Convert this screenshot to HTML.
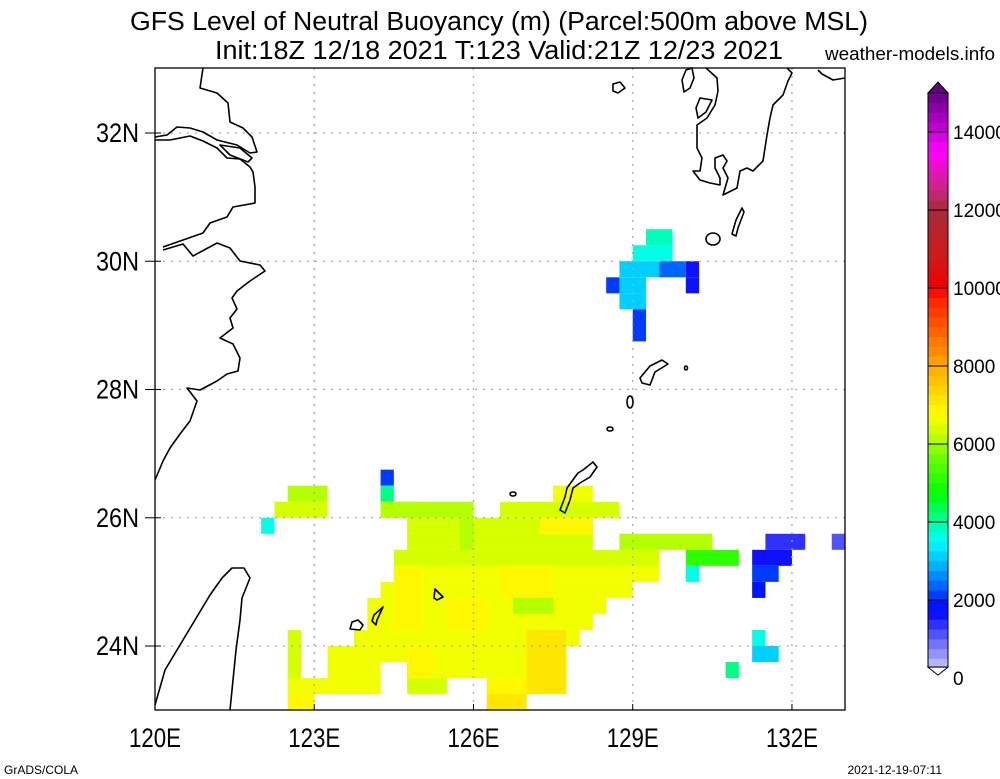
<!DOCTYPE html>
<html><head><meta charset="utf-8"><style>
body{margin:0;background:#fff;}
svg{display:block;font-family:"Liberation Sans",sans-serif;}
</style></head><body>
<svg id="chart" width="1000" height="779" viewBox="0 0 1000 779" xmlns="http://www.w3.org/2000/svg">
<text x="130" y="30" font-size="25.5" textLength="738" lengthAdjust="spacingAndGlyphs">GFS Level of Neutral Buoyancy (m) (Parcel:500m above MSL)</text>
<text x="215" y="59" font-size="25.5" textLength="568" lengthAdjust="spacingAndGlyphs">Init:18Z 12/18 2021 T:123 Valid:21Z 12/23 2021</text>
<text x="825" y="60" font-size="18.5" textLength="170" lengthAdjust="spacingAndGlyphs">weather-models.info</text>
<g id="cells"></g>
<g id="grid"></g>
<g id="coast" fill="none" stroke="#000" stroke-width="1.6" stroke-linejoin="round">
<polyline points="203,68 200,88 217,93 228,103 230,122 243,128 252,137 257,152 250,153 237,145 217,140 203,132 190,128 177,127 167,135 155,137"/>
<polyline points="155,140 170,140 190,136 203,141 217,148 227,158 240,159 250,167 253,172 255,187 255,203 233,207 227,217 210,223 203,233 183,240 163,247"/>
<polyline points="163,250 183,244 193,256 217,243 230,248 240,261 260,265 265,271 250,281 237,291 232,298 237,309 230,318 233,328 220,338 233,344 240,358 238,371 227,374 217,381 200,390 187,388 197,401 190,421 180,434 170,448 163,461 155,480"/>
<polygon points="220,145 240,148 252,158 248,162 230,155"/>
<polyline points="155,705 165,670 180,645 195,620 210,595 222,578 232,568 244,568 250,578 242,598 240,620 236,650 233,680 230,710"/>
<polyline points="706,68 717,78 718,91 715,105 707,118 697,125 697,148 702,158 700,171 693,171 700,180 710,183 720,185 720,178 715,168 715,158 723,155 727,161 723,168 728,178 723,195 737,188 740,171 747,168 753,171 763,161 767,135 770,118 773,105 783,95 788,81 792,73 787,68"/>
<polygon points="686,70 692,68 694,78 690,88 684,92 682,80"/>
<polygon points="700,98 712,100 706,112 698,118 696,108"/>
<polyline points="818,70 822,74 833,80 845,78"/>
<polygon points="613,84 620,82 625,88 618,93 613,91"/>
<polygon points="742,208 744,212 738,228 736,236 732,234 736,220"/>
<ellipse cx="713" cy="239" rx="7" ry="6"/>
<polygon points="640,378 650,366 662,360 668,364 655,372 650,385 642,383"/>
<ellipse cx="630" cy="402" rx="3" ry="6"/>
<ellipse cx="610" cy="429" rx="3" ry="2"/>
<ellipse cx="686" cy="368" rx="1.5" ry="2"/>
<polygon points="593,462 597,467 590,477 580,483 573,488 570,500 565,513 560,510 565,497 567,488 575,477 578,473 583,470"/>
<ellipse cx="513" cy="494" rx="3" ry="2"/>
<polygon points="435,589 443,597 437,600 434,598"/>
<polygon points="383,607 377,620 376,625 372,621 374,615"/>
<polygon points="352,622 358,620 363,625 360,630 350,629"/>
</g>
<rect x="155" y="68" width="690" height="642" fill="none" stroke="#000" stroke-width="1.3"/>
<g id="axes" font-size="27"></g>
<g id="cbar"></g>
<text x="4" y="774" font-size="12">GrADS/COLA</text>
<text x="942" y="774" font-size="12" text-anchor="end">2021-12-19-07:11</text>
</svg>
<script>
// Data: patches [lonWest, lonEast, latNorth, latSouth, value(m)]
const patches = [
 [129.25,129.75,30.5,30.25,3800],[129.0,129.75,30.25,30.0,3500],
 [128.75,129.5,30.0,29.75,3200],[129.5,130.0,30.0,29.75,2300],[130.0,130.25,30.0,29.75,1500],
 [128.5,128.75,29.75,29.5,2000],[128.75,129.25,29.75,29.5,3000],[130.0,130.25,29.75,29.5,1500],
 [128.75,129.25,29.5,29.25,3000],[129.0,129.25,29.25,28.75,2100],
 [124.25,124.5,26.75,26.5,2200],[124.25,124.5,26.5,26.25,4200],
 [122.5,123.25,26.5,26.25,6200],[127.5,128.25,26.5,26.25,6500],
 [122.25,123.25,26.25,26.0,6300],[124.25,126.0,26.25,26.0,6100],[126.5,128.75,26.25,26.0,6400],
 [122.0,122.25,26.0,25.75,3600],
 [124.75,128.25,26.0,25.75,6300],
 [124.75,128.25,25.75,25.5,6400],[128.75,130.5,25.75,25.5,6000],[131.5,132.25,25.75,25.5,1300],[132.75,133.0,25.75,25.5,1200],
 [124.5,129.5,25.5,25.25,6400],[130.0,131.0,25.5,25.25,5200],[131.25,132.0,25.5,25.25,1700],
 [124.5,129.5,25.25,25.0,6500],[130.0,130.25,25.25,25.0,3600],[131.25,131.75,25.25,25.0,2200],
 [124.25,129.0,25.0,24.75,6600],[131.25,131.5,25.0,24.75,1900],
 [124.0,128.5,24.75,24.5,6600],
 [124.0,128.25,24.5,24.25,6500],
 [123.75,128.0,24.25,24.0,6700],[122.5,122.75,24.25,23.25,6300],
 [123.25,127.75,24.0,23.75,6700],
 [123.25,124.25,23.75,23.5,6500],[124.75,127.5,23.75,23.5,6600],
 [122.5,124.25,23.5,23.25,6700],[124.75,125.5,23.5,23.25,6300],[126.25,127.25,23.5,23.25,6900],
 [122.5,123.0,23.25,23.0,6900],[126.25,127.0,23.25,23.0,7000],
 [131.25,131.5,24.25,24.0,3600],[131.25,131.75,24.0,23.75,3000],[130.75,131.0,23.75,23.5,4100]
];
// texture overlays within the southern region
const detailPatches = [
 [124.5,125.0,25.25,24.25,6900],[125.5,126.25,24.75,24.25,6800],[127.0,127.75,24.25,23.25,7000],
 [126.5,127.5,25.25,24.75,6800],[127.25,128.25,26.0,25.75,6800],[124.75,125.25,24.0,23.5,6800],
 [125.75,126.0,26.0,25.5,6000],[126.75,127.5,24.75,24.5,6000],[124.25,125.0,26.25,26.0,6000]
];
const lonTicks = [120,123,126,129,132];
const latTicks = [24,26,28,30,32];
const cbarLabels = [0,2000,4000,6000,8000,10000,12000,14000];
const colorStops = [[0,'#e6e6ff'],[1750,'#0000ff'],[2750,'#00a0ff'],[3500,'#00ffff'],[4000,'#00ffa0'],[4750,'#00ff00'],[5750,'#78ff00'],[6250,'#c8ff00'],[6750,'#ffff00'],[8000,'#ffaa00'],[9750,'#ff1e00'],[10000,'#f00000'],[11000,'#c81e1e'],[12000,'#a52a3c'],[12500,'#c8287a'],[13500,'#ff00ff'],[14250,'#b400c8'],[15000,'#640082']];

const NS='http://www.w3.org/2000/svg';
const X0=155,X1=845,Y0=68,Y1=710;
const xLon = lon => 155 + (lon-120)*53.08;
const yLat = lat => 133 + (32-lat)*64.125;
const yCb = v => 678 - v*0.039;
function hex(c){return [1,3,5].map(i=>parseInt(c.substr(i,2),16));}
function colorOf(v){
  const b=Math.floor(v/250)*250+125;
  for(let i=0;i<colorStops.length-1;i++){
    const [a,ca]=colorStops[i],[bb,cb]=colorStops[i+1];
    if(b>=a&&b<=bb){const t=(b-a)/(bb-a);const A=hex(ca),B=hex(cb);
      return 'rgb('+A.map((x,k)=>Math.round(x+(B[k]-x)*t)).join(',')+')';}
  }
  return colorStops[colorStops.length-1][1];
}
function mk(tag,attrs,parent){const e=document.createElementNS(NS,tag);for(const k in attrs)e.setAttribute(k,attrs[k]);parent.appendChild(e);return e;}

const cells=document.getElementById('cells');
[patches,detailPatches].forEach(list=>list.forEach(p=>{
  const x=xLon(p[0]),x2=Math.min(xLon(p[1]),X1),y=yLat(p[2]),y2=Math.min(yLat(p[3]),Y1);
  const r=mk('rect',{x:x,y:y,width:x2-x,height:y2-y,fill:colorOf(p[4])},cells);
  
  
}));

const grid=document.getElementById('grid');
lonTicks.slice(1).forEach(l=>{
  const g=mk('line',{x1:xLon(l),x2:xLon(l),y1:Y0,y2:Y1,stroke:'#aaa','stroke-width':1.3,'stroke-dasharray':'2,6'},grid);
  
  
});
latTicks.forEach(l=>{
  const g=mk('line',{x1:X0,x2:X1,y1:yLat(l),y2:yLat(l),stroke:'#aaa','stroke-width':1.3,'stroke-dasharray':'2,6'},grid);
  
  
});

const axes=document.getElementById('axes');
lonTicks.forEach(l=>{
  const t=mk('line',{x1:xLon(l),x2:xLon(l),y1:Y1,y2:Y1-6,stroke:'#000'},axes);
  
  
  const tx=mk('text',{x:xLon(l)-26,y:747,textLength:52,lengthAdjust:'spacingAndGlyphs'},axes);
  tx.textContent=l+'E';
  
  
});
latTicks.forEach(l=>{
  const t=mk('line',{x1:X0-10,x2:X0+6,y1:yLat(l),y2:yLat(l),stroke:'#000'},axes);
  
  
  const tx=mk('text',{x:96,y:yLat(l)+9,textLength:43,lengthAdjust:'spacingAndGlyphs'},axes);
  tx.textContent=l+'N';
  
  
});

const cb=document.getElementById('cbar');
const CX0=928,CX1=948;
for(let v=250;v<15000;v+=250){
  const r=mk('rect',{x:CX0,y:yCb(v+250),width:CX1-CX0,height:yCb(v)-yCb(v+250)+0.3,fill:colorOf(v)},cb);
  
  
}
const cbTop=yCb(15000),cbBot=yCb(280);
let o=mk('rect',{x:CX0,y:cbTop,width:CX1-CX0,height:cbBot-cbTop,fill:'none',stroke:'#000','stroke-width':1},cb);


let tu=mk('polygon',{points:CX0+','+cbTop+' '+(CX0+CX1)/2+','+(cbTop-11)+' '+CX1+','+cbTop,fill:'#640082',stroke:'#000'},cb);


let td=mk('polygon',{points:CX0+','+cbBot+' '+(CX0+CX1)/2+','+(cbBot+8)+' '+CX1+','+cbBot,fill:'#fff',stroke:'#000'},cb);


cbarLabels.forEach(v=>{
  if(v>0){const l=mk('line',{x1:CX0,x2:CX1,y1:yCb(v),y2:yCb(v),stroke:'#000'},cb);
    
    }
  const t=mk('text',{x:953,y:yCb(v)+7,'font-size':19},cb);
  t.textContent=v;
  
  
});
</script>
</body></html>
